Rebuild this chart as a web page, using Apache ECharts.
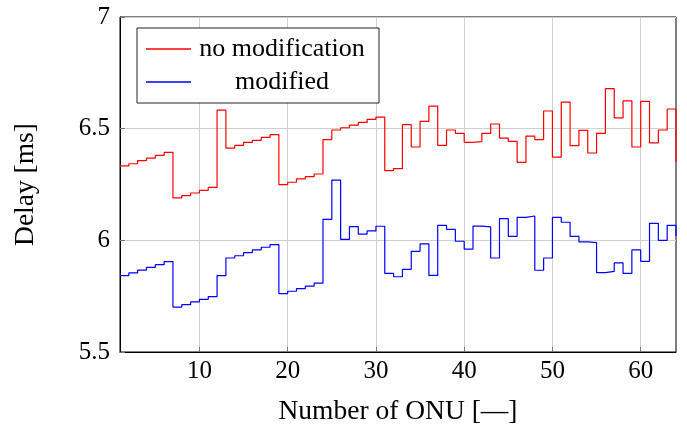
<!DOCTYPE html>
<html>
<head>
<meta charset="utf-8">
<script src="https://cdn.jsdelivr.net/npm/echarts@6/dist/echarts.min.js"></script>
<style>
html,body{margin:0;padding:0;background:#fff;}
#chart{width:687px;height:425px;}
</style>
</head>
<body>
<div id="chart"></div>
<script>
const onu = [1,2,3,4,5,6,7,8,9,10,11,12,13,14,15,16,17,18,19,20,21,22,23,24,25,26,27,28,29,30,31,32,33,34,35,36,37,38,39,40,41,42,43,44,45,46,47,48,49,50,51,52,53,54,55,56,57,58,59,60,61,62,63,64];
const noModification = [6.333,6.343,6.357,6.368,6.380,6.394,6.190,6.200,6.212,6.224,6.237,6.583,6.413,6.425,6.439,6.448,6.461,6.473,6.249,6.260,6.275,6.285,6.297,6.451,6.494,6.504,6.516,6.528,6.542,6.552,6.312,6.321,6.518,6.418,6.533,6.601,6.425,6.494,6.479,6.439,6.442,6.479,6.521,6.458,6.443,6.349,6.467,6.451,6.579,6.373,6.619,6.424,6.492,6.391,6.479,6.679,6.548,6.624,6.418,6.622,6.436,6.494,6.588,6.351];
const modified = [5.842,5.854,5.867,5.879,5.891,5.905,5.701,5.712,5.724,5.736,5.748,5.842,5.921,5.931,5.945,5.957,5.969,5.981,5.761,5.772,5.784,5.795,5.808,6.094,6.270,6.004,6.061,6.028,6.042,6.063,5.852,5.837,5.870,5.951,5.984,5.843,6.067,6.049,5.996,5.961,6.064,6.060,5.921,6.097,6.018,6.103,6.109,5.866,5.921,6.103,6.081,6.018,5.993,5.990,5.855,5.861,5.899,5.852,5.957,5.906,6.076,6.000,6.067,6.019];
const xTicks = [10,20,30,40,50,60];
const seriesNames = ['no modification','modified'];

const FONT = 'Liberation Serif';
const chart = echarts.init(document.getElementById('chart'), null, {renderer:'canvas'});
const pairs = ys => onu.map((x,i)=>[x, ys[i]]);
chart.setOption({
  animation:false,
  backgroundColor:'#fff',
  grid:{left:120, right:11, top:17, bottom:73, show:true, borderColor:'#000', borderWidth:1,
        containLabel:false, outerBoundsMode:'none'},
  legend:{
    left:137, top:28, orient:'vertical',
    padding:[8,11,8,9],
    itemGap:7, itemWidth:45, itemHeight:1.3, itemTextGap:6,
    icon:'rect',
    backgroundColor:'#fff', borderColor:'#222', borderWidth:1, borderRadius:0,
    data:seriesNames,
    formatter: n => '{t|' + n + '}',
    textStyle:{
      fontFamily:FONT, fontSize:26, color:'#000',
      rich:{t:{width:172, align:'center', fontFamily:FONT, fontSize:26, lineHeight:26, color:'#000'}}
    }
  },
  xAxis:{
    type:'value', min:1, max:64,
    name:'Number of ONU [—]', nameLocation:'middle', nameGap:46,
    nameTextStyle:{fontFamily:FONT, fontSize:27.5, color:'#000'},
    axisLine:{show:true, lineStyle:{color:'#000', width:1}},
    axisTick:{show:true, inside:true, length:5, customValues:xTicks, lineStyle:{color:'#777'}},
    axisLabel:{fontFamily:FONT, fontSize:25, color:'#000', margin:7, customValues:xTicks},
    splitLine:{show:true, lineStyle:{color:'#d0d0d0', width:1}}
  },
  yAxis:{
    type:'value', min:5.5, max:7, interval:0.5,
    name:'Delay [ms]', nameLocation:'middle', nameGap:80,
    nameTextStyle:{fontFamily:FONT, fontSize:27.5, color:'#000'},
    axisLine:{show:true, lineStyle:{color:'#000', width:1}},
    axisTick:{show:true, inside:true, length:5, lineStyle:{color:'#777'}},
    axisLabel:{fontFamily:FONT, fontSize:25, color:'#000', margin:10},
    splitLine:{show:true, lineStyle:{color:'#d0d0d0', width:1}}
  },
  series:[
    {name:seriesNames[0], type:'line', step:'end', symbol:'none', data:pairs(noModification),
     lineStyle:{color:'#ff0000', width:1.2}, itemStyle:{color:'#ff0000'}},
    {name:seriesNames[1], type:'line', step:'end', symbol:'none', data:pairs(modified),
     lineStyle:{color:'#0000ff', width:1.2}, itemStyle:{color:'#0000ff'}}
  ]
});
</script>
</body>
</html>
